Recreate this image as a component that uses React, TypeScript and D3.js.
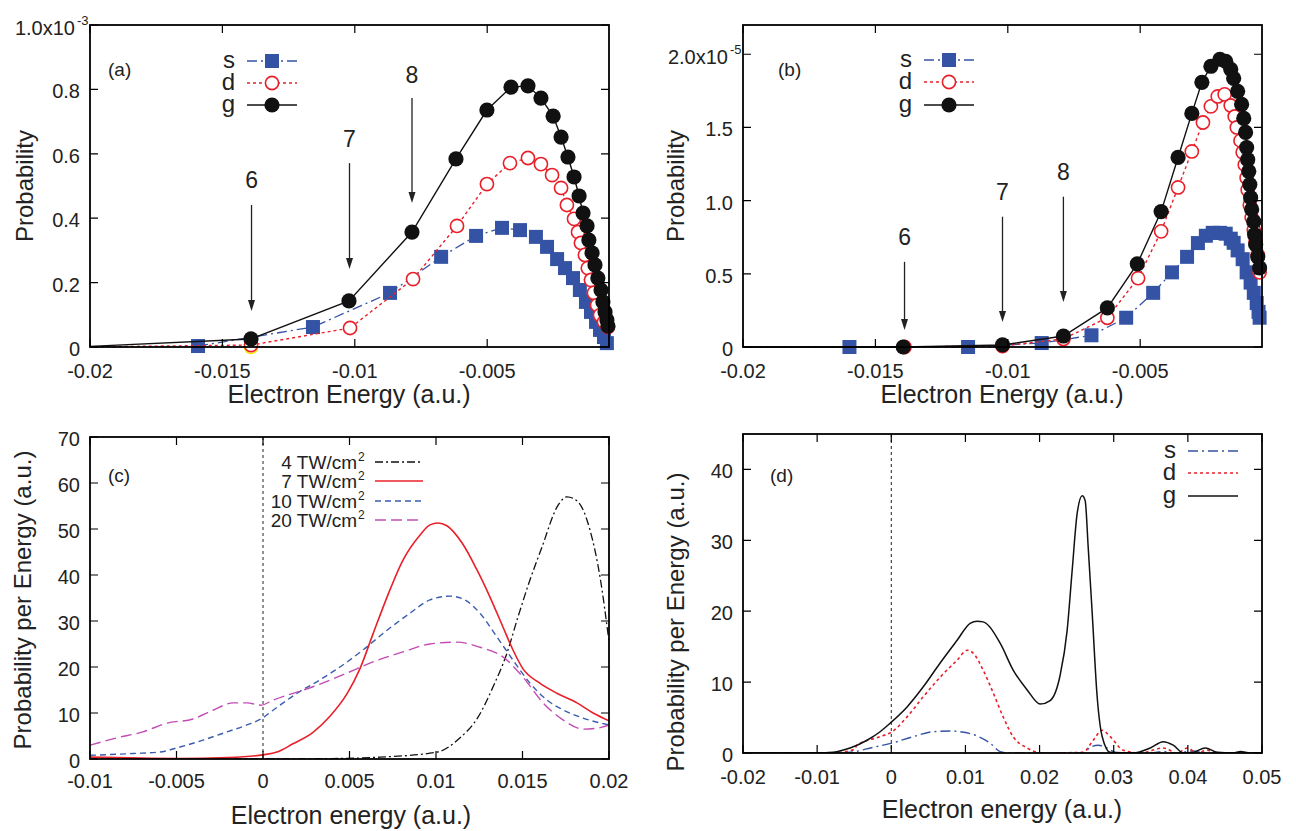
import React from "react";
import * as d3 from "d3";

type Pt = [number, number];

const FONT = "'Liberation Sans', Arial, Helvetica, sans-serif";
const BLUE = "#3453a4";
const RED = "#e8202a";
const BLACK = "#111111";
const MAGENTA = "#c24cb4";
const BLUE2 = "#3a5cb0";

// ---------------- Panel (a): probability (x1e-3) vs electron energy ----------------
const aS: Pt[] = [
  [-0.01592, 0.003], [-0.01158, 0.062], [-0.00867, 0.168], [-0.00674, 0.28], [-0.00542, 0.345],
  [-0.00444, 0.37], [-0.00376, 0.363], [-0.00316, 0.342], [-0.00274, 0.311], [-0.00236, 0.273],
  [-0.00206, 0.245], [-0.00176, 0.214], [-0.0015, 0.177], [-0.00127, 0.14], [-0.00108, 0.109],
  [-0.00089, 0.078], [-0.00074, 0.053], [-0.00059, 0.031], [-0.00048, 0.012],
];
const aD: Pt[] = [
  [-0.0205, 0], [-0.01392, 0.006], [-0.01018, 0.059], [-0.0078, 0.211], [-0.00614, 0.376],
  [-0.00501, 0.506], [-0.00414, 0.571], [-0.00346, 0.587], [-0.00297, 0.568], [-0.00255, 0.534],
  [-0.00221, 0.494], [-0.00199, 0.441], [-0.00172, 0.398], [-0.00157, 0.357], [-0.00146, 0.323],
  [-0.00131, 0.286], [-0.0012, 0.245], [-0.00108, 0.208], [-0.00097, 0.168], [-0.00085, 0.13],
  [-0.00074, 0.099], [-0.00059, 0.078], [-0.00044, 0.062],
];
const aG: Pt[] = [
  [-0.0205, 0], [-0.01392, 0.025], [-0.01022, 0.143], [-0.00784, 0.357], [-0.00618, 0.584],
  [-0.00501, 0.736], [-0.0041, 0.807], [-0.00346, 0.811], [-0.00297, 0.773], [-0.00251, 0.717],
  [-0.00221, 0.652], [-0.00195, 0.59], [-0.00172, 0.528], [-0.00153, 0.469], [-0.00138, 0.416],
  [-0.00123, 0.376], [-0.00116, 0.332], [-0.00104, 0.292], [-0.00093, 0.255], [-0.00082, 0.214],
  [-0.0007, 0.177], [-0.00063, 0.14], [-0.00055, 0.109], [-0.00048, 0.084], [-0.00044, 0.065],
];
const aExtra: Pt[] = [[-0.01392, 0]];
const aXTicks = [-0.02, -0.015, -0.01, -0.005];
const aXLabels = ["-0.02", "-0.015", "-0.01", "-0.005"];
const aYTicks = [0, 0.2, 0.4, 0.6, 0.8, 1.0];
const aYLabels = ["0", "0.2", "0.4", "0.6", "0.8", "1.0x10"];
const aArrows = [
  { n: "6", x: -0.0139, text: 0.494, top: 0.441, tip: 0.112 },
  { n: "7", x: -0.0102, text: 0.621, top: 0.571, tip: 0.242 },
  { n: "8", x: -0.00784, text: 0.82, top: 0.773, tip: 0.447 },
];

// ---------------- Panel (b): probability (x1e-5) vs electron energy ----------------
const bS: Pt[] = [
  [-0.01598, 0], [-0.0115, 0], [-0.00872, 0.027], [-0.00684, 0.08], [-0.00553, 0.2],
  [-0.00451, 0.37], [-0.0038, 0.51], [-0.00323, 0.616], [-0.00282, 0.71], [-0.00252, 0.76],
  [-0.00226, 0.78], [-0.00199, 0.78], [-0.00177, 0.774], [-0.00158, 0.74], [-0.00147, 0.712],
  [-0.00132, 0.66], [-0.00113, 0.6], [-0.00098, 0.51], [-0.00083, 0.44], [-0.00071, 0.37],
  [-0.0006, 0.3], [-0.00053, 0.24], [-0.00049, 0.2],
];
const bD: Pt[] = [
  [-0.0205, 0], [-0.0139, 0], [-0.0102, 0.007], [-0.0079, 0.055], [-0.00624, 0.2],
  [-0.00508, 0.47], [-0.00421, 0.79], [-0.00357, 1.09], [-0.00305, 1.336], [-0.00263, 1.534],
  [-0.00233, 1.644], [-0.00207, 1.712], [-0.00181, 1.726], [-0.00158, 1.65], [-0.00143, 1.575],
  [-0.00135, 1.5], [-0.00121, 1.41], [-0.00113, 1.33], [-0.00105, 1.246], [-0.00098, 1.157],
  [-0.00094, 1.075], [-0.00086, 0.97], [-0.00079, 0.884], [-0.00071, 0.8], [-0.00064, 0.72],
  [-0.00056, 0.63], [-0.00049, 0.51],
];
const bG: Pt[] = [
  [-0.0205, 0], [-0.01395, 0], [-0.0102, 0.014], [-0.0079, 0.075], [-0.00624, 0.267],
  [-0.00511, 0.568], [-0.00421, 0.925], [-0.00357, 1.295], [-0.00305, 1.596], [-0.00267, 1.808],
  [-0.00233, 1.918], [-0.00199, 1.966], [-0.00177, 1.952], [-0.00158, 1.897], [-0.00147, 1.836],
  [-0.00132, 1.747], [-0.00117, 1.658], [-0.00109, 1.562], [-0.00102, 1.466], [-0.00098, 1.363],
  [-0.00094, 1.28], [-0.0009, 1.2], [-0.00086, 1.11], [-0.00083, 1.02], [-0.00079, 0.94],
  [-0.00071, 0.856], [-0.00068, 0.767], [-0.00064, 0.7], [-0.00056, 0.616], [-0.00049, 0.54],
];
const bXTicks = [-0.02, -0.015, -0.01, -0.005];
const bXLabels = ["-0.02", "-0.015", "-0.01", "-0.005"];
const bYTicks = [0, 0.5, 1.0, 1.5, 2.0];
const bYLabels = ["0", "0.5", "1.0", "1.5", "2.0x10"];
const bArrows = [
  { n: "6", x: -0.0139, text: 0.699, top: 0.582, tip: 0.116 },
  { n: "7", x: -0.0102, text: 1.007, top: 0.89, tip: 0.171 },
  { n: "8", x: -0.0079, text: 1.144, top: 1.027, tip: 0.308 },
];

// ---------------- Panel (c): probability per energy, several intensities ----------------
const c4: Pt[] = [
  [-0.01, 0], [0, 0], [0.004, 0.1], [0.00676, 0.4], [0.01006, 1.5], [0.01139, 4.6],
  [0.01243, 9.1], [0.0133, 15.7], [0.0141, 23], [0.01474, 30.9], [0.01543, 38.9],
  [0.01613, 46.1], [0.017, 54.8], [0.01757, 57], [0.01821, 55.9], [0.0189, 49.8],
  [0.01948, 39.6], [0.02, 25.5],
];
const c7: Pt[] = [
  [-0.01, 0.4], [-0.005, 0.1], [-0.002, 0.3], [0, 0.9], [0.00081, 1.5], [0.00173, 3.3],
  [0.00289, 5.8], [0.00387, 9.3], [0.00486, 14.2], [0.0056, 19.6], [0.00636, 27.2],
  [0.00717, 35.2], [0.0081, 43.3], [0.00908, 48.7], [0.00965, 50.9], [0.01012, 51.3],
  [0.01063, 50.7], [0.0115, 47], [0.01237, 41.1], [0.01312, 35.2], [0.01387, 28.7],
  [0.01445, 23.7], [0.01503, 19.6], [0.016, 16.5], [0.01699, 14.3], [0.01815, 12.2],
  [0.01908, 10], [0.02, 8.3],
];
const c10: Pt[] = [
  [-0.01, 0.8], [-0.0075, 1.2], [-0.006, 1.5], [-0.0048, 2.6], [-0.00347, 4.1],
  [-0.00208, 5.9], [-0.00093, 7.4], [-0.00012, 8.7], [0.00058, 10.6], [0.00197, 14.3],
  [0.00329, 17.2], [0.00445, 20], [0.00578, 23.7], [0.00717, 28], [0.0085, 31.7],
  [0.00965, 34.6], [0.01081, 35.4], [0.01156, 34.8], [0.01254, 31.7], [0.01353, 26.5],
  [0.01445, 21.5], [0.01543, 16.5], [0.01642, 12.8], [0.01734, 10.7], [0.0185, 8.9],
  [0.02, 7.4],
];
const c20: Pt[] = [
  [-0.01, 3.0], [-0.00844, 4.6], [-0.00694, 5.9], [-0.00555, 7.8], [-0.00405, 8.7],
  [-0.00289, 10.6], [-0.00173, 12.2], [-0.00093, 12.2], [-0.00012, 11.7], [0.00058, 12.8],
  [0.00289, 15.7], [0.00486, 18.7], [0.00636, 21.1], [0.0081, 23.3], [0.00965, 25],
  [0.01121, 25.4], [0.01254, 24.3], [0.01387, 22.2], [0.01503, 17.8], [0.01619, 12.2],
  [0.01734, 8.5], [0.0185, 6.5], [0.01931, 6.7], [0.02, 7.4],
];
const cXTicks = [-0.01, -0.005, 0, 0.005, 0.01, 0.015, 0.02];
const cXLabels = ["-0.01", "-0.005", "0", "0.005", "0.01", "0.015", "0.02"];
const cYTicks = [0, 10, 20, 30, 40, 50, 60, 70];
const cYLabels = ["0", "10", "20", "30", "40", "50", "60", "70"];
const cLegend = ["4 TW/cm", "7 TW/cm", "10 TW/cm", "20 TW/cm"];

// ---------------- Panel (d): partial-wave decomposition ----------------
const dS: Pt[] = [
  [-0.02, 0], [-0.008, 0], [-0.00556, 0.1], [-0.00246, 0.8], [0.00011, 1.4], [0.00294, 2.3],
  [0.00564, 3.0], [0.00794, 3.1], [0.00929, 3.0], [0.01158, 2.4], [0.01333, 1.4],
  [0.01468, 0.2], [0.016, 0], [0.02588, 0], [0.02683, 0.8], [0.02791, 1.1], [0.02913, 0.7],
  [0.03047, 0], [0.035, 0], [0.0367, 0.2], [0.0385, 0], [0.0407, 0.3], [0.0422, 0], [0.05, 0],
];
const dD: Pt[] = [
  [-0.02, 0], [-0.008, 0], [-0.005, 0.5], [-0.00462, 1.1], [-0.00151, 2.3], [0.00011, 3.0],
  [0.00213, 5.1], [0.00429, 7.9], [0.00659, 10.7], [0.00888, 13.1], [0.01023, 14.5],
  [0.01104, 14.1], [0.01239, 11.7], [0.01374, 8.5], [0.01509, 5.1], [0.01644, 2.3],
  [0.01833, 0.7], [0.02049, 0], [0.02588, 0.1], [0.02723, 1.8], [0.02845, 3.2],
  [0.02953, 2.3], [0.03128, 0.4], [0.03358, 0], [0.03668, 0.7], [0.03857, 0],
  [0.03992, 0.7], [0.04127, 0], [0.04262, 0.4], [0.044, 0], [0.05, 0],
];
const dG: Pt[] = [
  [-0.02, 0], [-0.01, 0], [-0.00785, 0.1], [-0.00556, 0.7], [-0.00327, 1.8], [-0.00151, 3.0],
  [-0.00016, 4.2], [0.00213, 6.5], [0.00429, 9.3], [0.00659, 12.7], [0.00888, 15.9],
  [0.01063, 18.3], [0.01158, 18.6], [0.01239, 18.5], [0.01468, 15.5], [0.01644, 11.7],
  [0.01833, 8.9], [0.02008, 6.9], [0.02143, 7.4], [0.02278, 11], [0.02372, 17.3],
  [0.0244, 25.8], [0.02507, 33.8], [0.02575, 36.3], [0.02615, 35.6], [0.02656, 29],
  [0.0271, 19.7], [0.02777, 7.9], [0.02845, 2.3], [0.02953, 0.1], [0.0326, 0],
  [0.03493, 0.7], [0.03668, 1.6], [0.03803, 1.1], [0.03938, 0], [0.04073, 0.1],
  [0.04235, 0.7], [0.04397, 0.1], [0.0461, 0], [0.0471, 0.2], [0.0484, 0], [0.05, 0],
];
const dXTicks = [-0.02, -0.01, 0, 0.01, 0.02, 0.03, 0.04, 0.05];
const dXLabels = ["-0.02", "-0.01", "0", "0.01", "0.02", "0.03", "0.04", "0.05"];
const dYTicks = [0, 10, 20, 30, 40];
const dYLabels = ["0", "10", "20", "30", "40"];

const seriesNames = ["s", "d", "g"];

type Lin = d3.ScaleLinear<number, number>;

function Frame(props: {
  x: Lin; y: Lin; xTicks: number[]; xLabels: string[]; yTicks: number[]; yLabels: string[];
  xLabelDy: number; sup?: string;
}) {
  const { x, y, xTicks, xLabels, yTicks, yLabels, xLabelDy, sup } = props;
  const [l, r] = x.range();
  const [b, t] = y.range();
  const tl = 8;
  return (
    <g>
      {xTicks.map((v, i) => (
        <path key={"xt" + i} d={`M${x(v)},${b}V${b - tl}M${x(v)},${t}V${t + tl}`} stroke="#000" strokeWidth={1.2} />
      ))}
      {yTicks.map((v, i) => (
        <path key={"yt" + i} d={`M${l},${y(v)}H${l + tl}M${r},${y(v)}H${r - tl}`} stroke="#000" strokeWidth={1.2} />
      ))}
      <rect x={l} y={t} width={r - l} height={b - t} fill="none" stroke="#000" strokeWidth={1.8} />
      {xTicks.map((v, i) => (
        <text key={"xl" + i} x={x(v)} y={b + xLabelDy} textAnchor="middle" fontSize={20} fill="#222">
          {xLabels[i]}
        </text>
      ))}
      {yTicks.map((v, i) => {
        const isSup = sup && i === yTicks.length - 1;
        return (
          <g key={"yl" + i}>
            <text x={l - (isSup ? 15 : 10)} y={y(v) + (isSup ? 10 : 9)} textAnchor="end" fontSize={20} fill="#222">
              {yLabels[i]}
            </text>
            {isSup ? (
              <text x={l - 13} y={y(v)} fontSize={13} fill="#222">{sup}</text>
            ) : null}
          </g>
        );
      })}
    </g>
  );
}

function Arrows(props: { x: Lin; y: Lin; arrows: { n: string; x: number; text: number; top: number; tip: number }[] }) {
  const { x, y, arrows } = props;
  return (
    <g>
      {arrows.map((a, i) => {
        const px = x(a.x);
        const tip = y(a.tip);
        return (
          <g key={i}>
            <text x={px} y={y(a.text)} textAnchor="middle" fontSize={23} fill="#222">{a.n}</text>
            <line x1={px} x2={px} y1={y(a.top)} y2={tip - 8} stroke="#222" strokeWidth={1.3} />
            <path d={`M${px},${tip}L${px - 3.5},${tip - 11}L${px + 3.5},${tip - 11}Z`} fill="#222" />
          </g>
        );
      })}
    </g>
  );
}

function Square({ cx, cy, s = 14 }: { cx: number; cy: number; s?: number }) {
  return <rect x={cx - s / 2} y={cy - s / 2} width={s} height={s} fill={BLUE} />;
}

function OpenCircle({ cx, cy }: { cx: number; cy: number }) {
  return <circle cx={cx} cy={cy} r={6.6} fill="#fff" stroke={RED} strokeWidth={1.6} />;
}

function FullCircle({ cx, cy }: { cx: number; cy: number }) {
  return <circle cx={cx} cy={cy} r={7.6} fill={BLACK} />;
}

function MarkerPanel(props: {
  id: string; x: Lin; y: Lin; s: Pt[]; d: Pt[]; g: Pt[]; extra?: Pt[];
}) {
  const { id, x, y, s, d, g, extra } = props;
  const [l, r] = x.range();
  const [b, t] = y.range();
  const line = d3.line<Pt>().x((p) => x(p[0])).y((p) => y(p[1]));
  return (
    <g>
      <clipPath id={id}>
        <rect x={l} y={t - 10} width={r - l + 10} height={b - t + 20} />
      </clipPath>
      <g clipPath={`url(#${id})`}>
        <path d={line(s) || ""} fill="none" stroke={BLUE} strokeWidth={1.3} strokeDasharray="10,4,2,4" />
        {s.map((p, i) => <Square key={"s" + i} cx={x(p[0])} cy={y(p[1])} />)}
        {extra ? extra.map((p, i) => (
          <circle key={"e" + i} cx={x(p[0])} cy={y(p[1])} r={6.5} fill="none" stroke="#f2e600" strokeWidth={1.5} />
        )) : null}
        <path d={line(d) || ""} fill="none" stroke={RED} strokeWidth={1.4} strokeDasharray="3,3" />
        {d.map((p, i) => <OpenCircle key={"d" + i} cx={x(p[0])} cy={y(p[1])} />)}
        <path d={line(g) || ""} fill="none" stroke={BLACK} strokeWidth={1.4} />
        {g.map((p, i) => <FullCircle key={"g" + i} cx={x(p[0])} cy={y(p[1])} />)}
      </g>
    </g>
  );
}

function MarkerLegend({ right, rows }: { right: number; rows: number[] }) {
  const x0 = right + 12;
  const x1 = right + 62;
  const xm = (x0 + x1) / 2;
  return (
    <g>
      {seriesNames.map((n, i) => (
        <text key={n} x={right} y={rows[i] + 7} textAnchor="end" fontSize={24} fill="#222">{n}</text>
      ))}
      <line x1={x0} x2={x1} y1={rows[0]} y2={rows[0]} stroke={BLUE} strokeWidth={1.3} strokeDasharray="10,4,2,4" />
      <Square cx={xm} cy={rows[0]} />
      <line x1={x0} x2={x1} y1={rows[1]} y2={rows[1]} stroke={RED} strokeWidth={1.4} strokeDasharray="3,3" />
      <OpenCircle cx={xm} cy={rows[1]} />
      <line x1={x0} x2={x1} y1={rows[2]} y2={rows[2]} stroke={BLACK} strokeWidth={1.4} />
      <FullCircle cx={xm} cy={rows[2]} />
    </g>
  );
}

export default function App() {
  const ax = d3.scaleLinear().domain([-0.02, -0.0004]).range([90, 609]);
  const ay = d3.scaleLinear().domain([0, 1.0]).range([347, 25]);
  const bx = d3.scaleLinear().domain([-0.02, -0.0004]).range([743, 1262]);
  const by = d3.scaleLinear().domain([0, 2.2]).range([347, 25]);
  const cx = d3.scaleLinear().domain([-0.01, 0.02]).range([90, 609]);
  const cy = d3.scaleLinear().domain([0, 70]).range([759, 437]);
  const dx = d3.scaleLinear().domain([-0.02, 0.05]).range([743, 1262]);
  const dy = d3.scaleLinear().domain([0, 45]).range([753, 434]);

  const cLine = d3.line<Pt>().x((p) => cx(p[0])).y((p) => cy(p[1])).curve(d3.curveMonotoneX);
  const dLine = d3.line<Pt>().x((p) => dx(p[0])).y((p) => dy(p[1])).curve(d3.curveMonotoneX);

  const cStyles = [
    { data: c4, color: BLACK, dash: "8,3,2,3", w: 1.3 },
    { data: c7, color: RED, dash: "", w: 1.6 },
    { data: c10, color: BLUE2, dash: "6,4", w: 1.4 },
    { data: c20, color: MAGENTA, dash: "11,5", w: 1.4 },
  ];
  const cRows = [462, 481, 501, 520];
  const dStyles = [
    { data: dS, color: BLUE, dash: "10,4,2,4", w: 1.4 },
    { data: dD, color: RED, dash: "3,3", w: 1.6 },
    { data: dG, color: BLACK, dash: "", w: 1.5 },
  ];
  const dRows = [451, 473, 496];

  return (
    <svg
      width={1296}
      height={831}
      style={{ position: "absolute", left: 0, top: 0, background: "#fff" }}
      fontFamily={FONT}
    >
      <rect width={1296} height={831} fill="#fff" />

      {/* ---------- (a) ---------- */}
      <MarkerPanel id="clipA" x={ax} y={ay} s={aS} d={aD} g={aG} extra={aExtra} />
      <Frame x={ax} y={ay} xTicks={aXTicks} xLabels={aXLabels} yTicks={aYTicks} yLabels={aYLabels} xLabelDy={31} sup="-3" />
      <Arrows x={ax} y={ay} arrows={aArrows} />
      <MarkerLegend right={235} rows={[61, 83, 105]} />
      <text x={108} y={76} fontSize={19} fill="#222">(a)</text>
      <text x={349} y={403} textAnchor="middle" fontSize={25} fill="#222">Electron Energy (a.u.)</text>
      <text transform="translate(33,186) rotate(-90)" textAnchor="middle" fontSize={24} fill="#222">Probability</text>

      {/* ---------- (b) ---------- */}
      <MarkerPanel id="clipB" x={bx} y={by} s={bS} d={bD} g={bG} />
      <Frame x={bx} y={by} xTicks={bXTicks} xLabels={bXLabels} yTicks={bYTicks} yLabels={bYLabels} xLabelDy={31} sup="-5" />
      <Arrows x={bx} y={by} arrows={bArrows} />
      <MarkerLegend right={912} rows={[60, 82, 105]} />
      <text x={778} y={76} fontSize={19} fill="#222">(b)</text>
      <text x={1002} y={403} textAnchor="middle" fontSize={25} fill="#222">Electron Energy (a.u.)</text>
      <text transform="translate(684,186) rotate(-90)" textAnchor="middle" fontSize={24} fill="#222">Probability</text>

      {/* ---------- (c) ---------- */}
      <clipPath id="clipC">
        <rect x={90} y={437} width={519} height={322} />
      </clipPath>
      <line x1={cx(0)} x2={cx(0)} y1={cy(70)} y2={cy(0)} stroke="#222" strokeWidth={1} strokeDasharray="3,3" />
      <g clipPath="url(#clipC)">
        {cStyles.map((s, i) => (
          <path key={i} d={cLine(s.data) || ""} fill="none" stroke={s.color} strokeWidth={s.w} strokeDasharray={s.dash || undefined} />
        ))}
      </g>
      <Frame x={cx} y={cy} xTicks={cXTicks} xLabels={cXLabels} yTicks={cYTicks} yLabels={cYLabels} xLabelDy={29} />
      {cLegend.map((lab, i) => (
        <g key={i}>
          <text x={357} y={cRows[i] + 7} textAnchor="end" fontSize={19} fill="#222">{lab}</text>
          <text x={358} y={cRows[i] - 1} fontSize={12} fill="#222">2</text>
          <line x1={375} x2={423} y1={cRows[i]} y2={cRows[i]} stroke={cStyles[i].color} strokeWidth={cStyles[i].w} strokeDasharray={cStyles[i].dash || undefined} />
        </g>
      ))}
      <text x={108} y={482} fontSize={19} fill="#222">(c)</text>
      <text x={351} y={824} textAnchor="middle" fontSize={25} fill="#222">Electron energy (a.u.)</text>
      <text transform="translate(31,600) rotate(-90)" textAnchor="middle" fontSize={24} fill="#222">Probability per Energy (a.u.)</text>

      {/* ---------- (d) ---------- */}
      <clipPath id="clipD">
        <rect x={743} y={434} width={519} height={319} />
      </clipPath>
      <line x1={dx(0)} x2={dx(0)} y1={dy(45)} y2={dy(0)} stroke="#222" strokeWidth={1} strokeDasharray="3,3" />
      <g clipPath="url(#clipD)">
        {dStyles.map((s, i) => (
          <path key={i} d={dLine(s.data) || ""} fill="none" stroke={s.color} strokeWidth={s.w} strokeDasharray={s.dash || undefined} />
        ))}
      </g>
      <Frame x={dx} y={dy} xTicks={dXTicks} xLabels={dXLabels} yTicks={dYTicks} yLabels={dYLabels} xLabelDy={31} />
      {seriesNames.map((n, i) => (
        <g key={n}>
          <text x={1176} y={dRows[i] + 7} textAnchor="end" fontSize={24} fill="#222">{n}</text>
          <line x1={1188} x2={1238} y1={dRows[i]} y2={dRows[i]} stroke={dStyles[i].color} strokeWidth={dStyles[i].w} strokeDasharray={dStyles[i].dash || undefined} />
        </g>
      ))}
      <text x={770} y={482} fontSize={19} fill="#222">(d)</text>
      <text x={1002} y={818} textAnchor="middle" fontSize={25} fill="#222">Electron energy (a.u.)</text>
      <text transform="translate(684,622) rotate(-90)" textAnchor="middle" fontSize={24} fill="#222">Probability per Energy (a.u.)</text>
    </svg>
  );
}
